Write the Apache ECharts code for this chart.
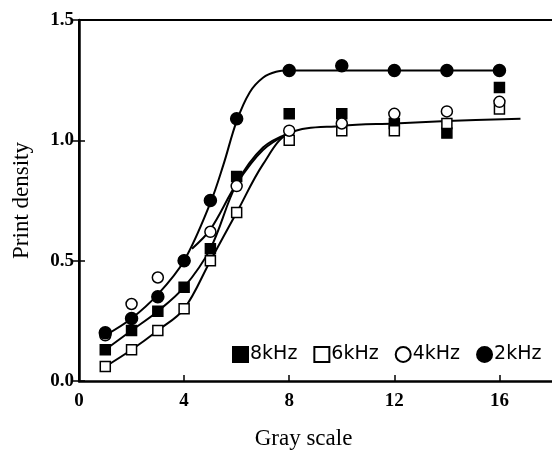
<!DOCTYPE html>
<html>
<head>
<meta charset="utf-8">
<script src="https://cdn.jsdelivr.net/npm/echarts@6/dist/echarts.min.js"></script>
<style>
  html, body { margin: 0; padding: 0; background: #fff; }
  #chart { width: 552px; height: 455px; }
</style>
</head>
<body>
<div id="chart"></div>
<script>
// measured points (gray scale step -> print density)
const grayScale = [1, 2, 3, 4, 5, 6, 8, 10, 12, 14, 16];
const density8k = [0.13, 0.21, 0.29, 0.39, 0.55, 0.85, 1.11, 1.11, 1.07, 1.03, 1.22];
const density6k = [0.06, 0.13, 0.21, 0.30, 0.50, 0.70, 1.00, 1.04, 1.04, 1.07, 1.13];
const density4k = [0.19, 0.32, 0.43, 0.50, 0.62, 0.81, 1.04, 1.07, 1.11, 1.12, 1.16];
const density2k = [0.20, 0.26, 0.35, 0.50, 0.75, 1.09, 1.29, 1.31, 1.29, 1.29, 1.29];

// hand drawn fit curves
const fit2k = [[1, 0.19], [2, 0.26], [3, 0.36], [4, 0.5], [5, 0.74], [5.5, 0.9], [6, 1.08],
  [6.5, 1.2], [7, 1.26], [7.5, 1.285], [8, 1.29], [16, 1.29]];
const fit4k = [[4.3, 0.55], [5, 0.63], [6, 0.82], [7, 0.96], [8, 1.03]];
const fit8k = [[1, 0.13], [2, 0.21], [3, 0.29], [4, 0.39], [5, 0.55], [6, 0.82], [7, 0.97], [8, 1.03]];
const fit6k = [[1, 0.06], [2, 0.13], [3, 0.21], [4, 0.30], [5, 0.50], [6, 0.70], [7, 0.9], [8, 1.03],
  [10, 1.06], [12, 1.07], [14, 1.08], [16.8, 1.09]];

const xTicks = [0, 4, 8, 12, 16];
const yTicks = [0.0, 0.5, 1.0, 1.5];

const serif = "Liberation Serif";
const sans = "DejaVu Sans";

function pairs(ys) {
  return grayScale.map((x, i) => [x, ys[i]]);
}

const markerSeries = [
  { name: "8kHz", data: density8k, symbol: "rect", size: 10, fill: "#000" },
  { name: "6kHz", data: density6k, symbol: "rect", size: 10, fill: "#fff" },
  { name: "4kHz", data: density4k, symbol: "circle", size: 11, fill: "#fff" },
  { name: "2kHz", data: density2k, symbol: "circle", size: 12, fill: "#000" },
].map((s) => ({
  name: s.name,
  type: "scatter",
  symbol: s.symbol,
  symbolSize: s.size,
  z: 5,
  itemStyle: { color: s.fill, borderColor: "#000", borderWidth: 1.5, opacity: 1 },
  data: pairs(s.data),
}));

const fitSeries = [fit2k, fit4k, fit8k, fit6k].map((d, i) => ({
  name: "fit" + i,
  type: "line",
  smooth: 0.35,
  showSymbol: false,
  z: 2,
  silent: true,
  lineStyle: { color: "#000", width: 2 },
  data: d,
}));

const chart = echarts.init(document.getElementById("chart"));
chart.setOption({
  animation: false,
  backgroundColor: "#fff",
  grid: { left: 79, right: -2, top: 20, bottom: 64 },
  legend: {
    data: markerSeries.map((s) => s.name),
    left: 232,
    top: 345,
    itemWidth: 15,
    itemHeight: 15,
    itemGap: 16,
    padding: 0,
    textStyle: { fontFamily: sans, fontSize: 19, color: "#000", padding: [0, 0, 0, -3] },
  },
  xAxis: [
    {
      type: "value",
      min: 0,
      max: 18,
      interval: 4,
      name: "Gray scale",
      nameLocation: "middle",
      nameGap: 46,
      nameTextStyle: { fontFamily: serif, fontSize: 23, color: "#000", padding: [0, 24, 0, 0] },
      axisLine: { lineStyle: { color: "#000", width: 2.5 } },
      axisTick: { inside: true, length: 6, lineStyle: { color: "#000", width: 1.5 } },
      axisLabel: {
        showMaxLabel: false,
        margin: 11,
        fontFamily: serif,
        fontSize: 19,
        fontWeight: "bold",
        color: "#000",
        formatter: (v) => (xTicks.includes(v) ? String(v) : ""),
      },
      splitLine: { show: false },
    },
    {
      type: "value",
      position: "top",
      min: 0,
      max: 18,
      axisLine: { onZero: false, lineStyle: { color: "#000", width: 2 } },
      axisTick: { show: false },
      axisLabel: { show: false },
      splitLine: { show: false },
    },
  ],
  yAxis: [
    {
      type: "value",
      min: 0,
      max: 1.5,
      interval: 0.5,
      name: "Print density",
      nameLocation: "middle",
      nameGap: 46,
      nameTextStyle: { fontFamily: serif, fontSize: 23, color: "#000" },
      axisLine: { lineStyle: { color: "#000", width: 2.5 } },
      axisTick: { inside: true, length: 6, lineStyle: { color: "#000", width: 1.5 } },
      axisLabel: {
        margin: 5,
        fontFamily: serif,
        fontSize: 19,
        fontWeight: "bold",
        color: "#000",
        formatter: (v) => (yTicks.includes(v) ? v.toFixed(1) : ""),
      },
      splitLine: { show: false },
    },
    {
      type: "value",
      position: "right",
      min: 0,
      max: 1.5,
      interval: 0.5,
      axisLine: { show: true, lineStyle: { color: "#000", width: 2 } },
      axisTick: { inside: true, length: 7, lineStyle: { color: "#000", width: 1.5 } },
      axisLabel: { show: false },
      splitLine: { show: false },
    },
  ],
  series: [...fitSeries, ...markerSeries],
});
</script>
</body>
</html>
